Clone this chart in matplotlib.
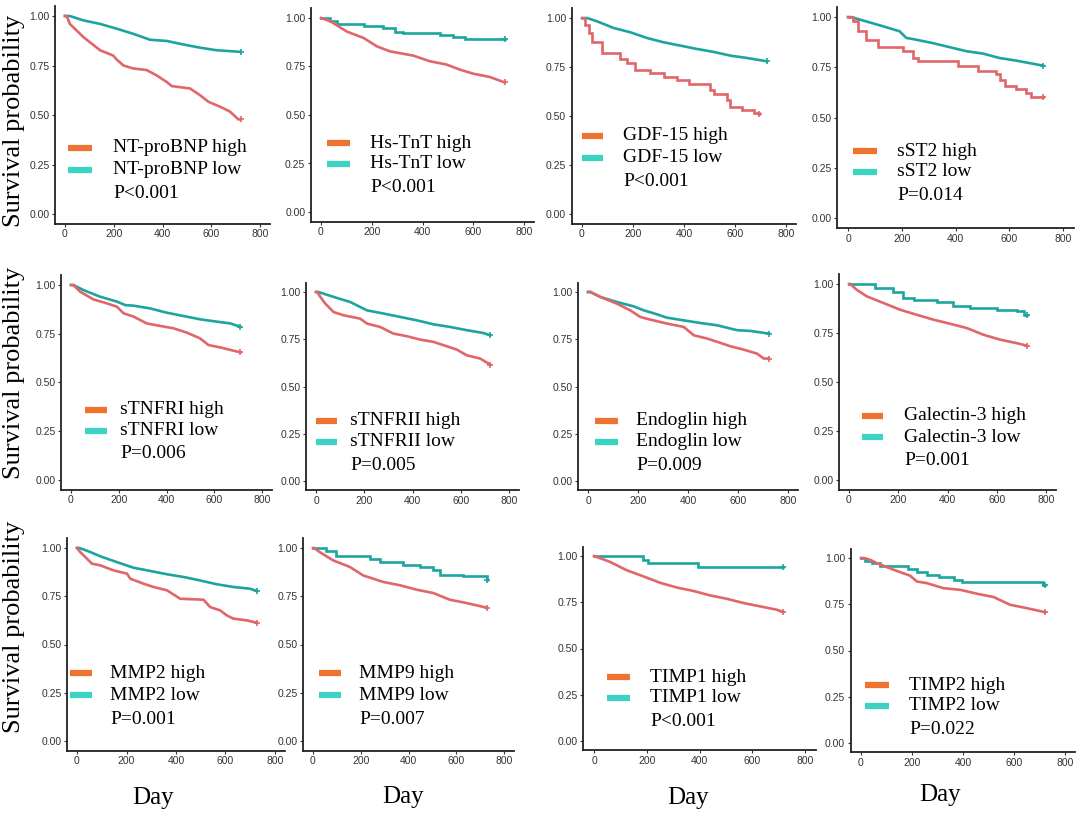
import matplotlib
matplotlib.use("Agg")
import matplotlib.pyplot as plt
from matplotlib.lines import Line2D

W, H = 1084, 818

# ---------------- data ----------------
markers = ["NT-proBNP", "Hs-TnT", "GDF-15", "sST2",
           "sTNFRI", "sTNFRII", "Endoglin", "Galectin-3",
           "MMP2", "MMP9", "TIMP1", "TIMP2"]
p_values = ["P<0.001", "P<0.001", "P<0.001", "P=0.014",
            "P=0.006", "P=0.005", "P=0.009", "P=0.001",
            "P=0.001", "P=0.007", "P<0.001", "P=0.022"]

x_ticks = [0, 200, 400, 600, 800]
y_ticks = [0.00, 0.25, 0.50, 0.75, 1.00]

ntprobnp_high_t = [0, 7, 20, 75, 144, 198, 212, 240, 280, 335, 376, 417, 438, 513, 554, 588, 636, 677, 711, 720]
ntprobnp_high_s = [1.0, 1.0, 0.96, 0.894, 0.827, 0.80, 0.78, 0.75, 0.735, 0.727, 0.70, 0.667, 0.646, 0.634, 0.60, 0.567, 0.542, 0.517, 0.478, 0.478]
ntprobnp_low_t = [0, 20, 75, 144, 212, 280, 349, 417, 486, 554, 622, 720]
ntprobnp_low_s = [1.0, 1.0, 0.978, 0.96, 0.936, 0.91, 0.88, 0.874, 0.856, 0.84, 0.827, 0.819]

hstnt_high_t = [0, 37, 102, 168, 220, 272, 364, 429, 495, 547, 600, 665, 724]
hstnt_high_s = [1.0, 0.983, 0.93, 0.897, 0.854, 0.828, 0.806, 0.777, 0.76, 0.734, 0.713, 0.696, 0.668]
hstnt_low_t = [0, 37, 63, 168, 246, 292, 325, 469, 521, 567, 724]
hstnt_low_s = [1.0, 0.983, 0.97, 0.96, 0.948, 0.93, 0.923, 0.913, 0.904, 0.89, 0.89]

gdf15_high_t = [0, 13, 26, 39, 78, 150, 176, 209, 268, 320, 373, 418, 503, 516, 569, 582, 627, 673, 693]
gdf15_high_s = [1.0, 0.966, 0.923, 0.878, 0.82, 0.79, 0.77, 0.735, 0.72, 0.70, 0.685, 0.665, 0.634, 0.61, 0.583, 0.546, 0.533, 0.515, 0.51]
gdf15_low_t = [0, 20, 59, 124, 190, 255, 320, 386, 451, 516, 582, 647, 725]
gdf15_low_s = [1.0, 1.0, 0.983, 0.949, 0.927, 0.898, 0.876, 0.859, 0.842, 0.827, 0.808, 0.796, 0.779]

sst2_high_t = [0, 19, 37, 68, 112, 205, 242, 260, 409, 484, 552, 564, 583, 626, 664, 682, 726]
sst2_high_s = [1.0, 0.978, 0.93, 0.887, 0.849, 0.83, 0.796, 0.78, 0.758, 0.73, 0.718, 0.685, 0.658, 0.642, 0.622, 0.60, 0.60]
sst2_low_t = [0, 10, 68, 130, 192, 217, 254, 316, 378, 440, 502, 564, 626, 726]
sst2_low_s = [1.0, 1.0, 0.978, 0.954, 0.929, 0.896, 0.887, 0.87, 0.85, 0.83, 0.818, 0.796, 0.783, 0.758]

stnfri_high_t = [0, 10, 38, 94, 150, 192, 220, 262, 317, 373, 429, 485, 541, 576, 625, 681, 709]
stnfri_high_s = [1.0, 1.0, 0.966, 0.926, 0.906, 0.889, 0.855, 0.838, 0.803, 0.79, 0.778, 0.756, 0.726, 0.692, 0.68, 0.663, 0.655]
stnfri_low_t = [0, 10, 52, 122, 192, 227, 262, 331, 401, 471, 541, 611, 667, 709]
stnfri_low_s = [1.0, 1.0, 0.974, 0.94, 0.915, 0.897, 0.894, 0.88, 0.858, 0.841, 0.824, 0.812, 0.803, 0.786]

stnfrii_high_t = [0, 5, 18, 39, 73, 114, 183, 211, 266, 321, 377, 432, 487, 542, 584, 625, 680, 722]
stnfrii_high_s = [1.0, 1.0, 0.974, 0.938, 0.894, 0.877, 0.859, 0.833, 0.815, 0.78, 0.766, 0.748, 0.736, 0.713, 0.695, 0.665, 0.648, 0.616]
stnfrii_low_t = [0, 10, 73, 142, 211, 280, 349, 418, 487, 556, 625, 694, 722]
stnfrii_low_s = [1.0, 1.0, 0.974, 0.947, 0.903, 0.886, 0.868, 0.85, 0.829, 0.815, 0.798, 0.783, 0.771]

endoglin_high_t = [0, 10, 49, 116, 169, 209, 249, 316, 383, 423, 476, 529, 569, 623, 676, 703, 723]
endoglin_high_s = [1.0, 1.0, 0.974, 0.938, 0.903, 0.868, 0.854, 0.833, 0.815, 0.771, 0.754, 0.731, 0.713, 0.695, 0.674, 0.648, 0.648]
endoglin_low_t = [0, 10, 49, 116, 183, 223, 276, 316, 383, 449, 516, 596, 649, 723]
endoglin_low_s = [1.0, 1.0, 0.974, 0.947, 0.924, 0.903, 0.882, 0.864, 0.85, 0.836, 0.824, 0.798, 0.794, 0.78]

galectin_high_t = [0, 5, 31, 72, 140, 207, 275, 343, 411, 479, 546, 614, 682, 723]
galectin_high_s = [1.0, 1.0, 0.971, 0.937, 0.903, 0.869, 0.843, 0.818, 0.797, 0.775, 0.741, 0.716, 0.698, 0.685]
galectin_low_t = [0, 106, 180, 221, 262, 357, 424, 492, 600, 682, 709, 723]
galectin_low_s = [1.0, 0.98, 0.957, 0.928, 0.92, 0.906, 0.889, 0.877, 0.869, 0.86, 0.843, 0.843]

mmp2_high_t = [0, 13, 40, 60, 94, 148, 202, 215, 269, 309, 363, 417, 511, 538, 578, 605, 632, 686, 726]
mmp2_high_s = [1.0, 0.979, 0.945, 0.919, 0.91, 0.884, 0.867, 0.841, 0.815, 0.798, 0.781, 0.737, 0.732, 0.694, 0.677, 0.651, 0.634, 0.625, 0.613]
mmp2_low_t = [0, 10, 54, 94, 161, 228, 296, 363, 430, 497, 565, 632, 699, 726]
mmp2_low_s = [1.0, 1.0, 0.979, 0.957, 0.927, 0.898, 0.881, 0.864, 0.85, 0.832, 0.812, 0.798, 0.789, 0.777]

mmp9_high_t = [0, 5, 28, 84, 154, 210, 294, 364, 434, 503, 573, 643, 727]
mmp9_high_s = [1.0, 1.0, 0.979, 0.936, 0.902, 0.858, 0.824, 0.807, 0.784, 0.767, 0.732, 0.715, 0.691]
mmp9_low_t = [0, 56, 98, 238, 280, 378, 448, 503, 531, 629, 727]
mmp9_low_s = [1.0, 0.984, 0.957, 0.945, 0.927, 0.91, 0.902, 0.888, 0.858, 0.853, 0.832]

timp1_high_t = [0, 10, 61, 124, 187, 253, 316, 377, 440, 503, 566, 629, 692, 718]
timp1_high_s = [1.0, 0.995, 0.968, 0.923, 0.89, 0.854, 0.829, 0.811, 0.787, 0.769, 0.746, 0.728, 0.71, 0.697]
timp1_low_t = [0, 187, 206, 396, 718]
timp1_low_s = [1.0, 0.98, 0.962, 0.94, 0.94]

timp2_high_t = [0, 10, 35, 61, 127, 193, 219, 258, 323, 389, 454, 520, 585, 650, 722]
timp2_high_s = [1.0, 1.0, 0.991, 0.973, 0.937, 0.904, 0.873, 0.864, 0.837, 0.828, 0.807, 0.789, 0.747, 0.729, 0.707]
timp2_low_t = [0, 16, 42, 75, 186, 219, 258, 304, 363, 395, 715, 722]
timp2_low_s = [1.0, 0.982, 0.973, 0.958, 0.94, 0.922, 0.91, 0.897, 0.882, 0.87, 0.855, 0.855]

high_t = [ntprobnp_high_t, hstnt_high_t, gdf15_high_t, sst2_high_t, stnfri_high_t, stnfrii_high_t,
          endoglin_high_t, galectin_high_t, mmp2_high_t, mmp9_high_t, timp1_high_t, timp2_high_t]
high_s = [ntprobnp_high_s, hstnt_high_s, gdf15_high_s, sst2_high_s, stnfri_high_s, stnfrii_high_s,
          endoglin_high_s, galectin_high_s, mmp2_high_s, mmp9_high_s, timp1_high_s, timp2_high_s]
low_t = [ntprobnp_low_t, hstnt_low_t, gdf15_low_t, sst2_low_t, stnfri_low_t, stnfrii_low_t,
         endoglin_low_t, galectin_low_t, mmp2_low_t, mmp9_low_t, timp1_low_t, timp2_low_t]
low_s = [ntprobnp_low_s, hstnt_low_s, gdf15_low_s, sst2_low_s, stnfri_low_s, stnfrii_low_s,
         endoglin_low_s, galectin_low_s, mmp2_low_s, mmp9_low_s, timp1_low_s, timp2_low_s]

# curves drawn as visible staircases (few events)
stepped_high = {"GDF-15", "sST2"}
stepped_low = {"Hs-TnT", "Galectin-3", "MMP9", "TIMP1", "TIMP2"}

# ---------------- layout (pixels) ----------------
# x pixel of day 0, x pixel of day 800, y pixel of 1.00, y pixel of 0.00
panel_px = [
    (65, 260, 16, 214), (321, 524, 18, 212), (582, 786, 18, 214), (848, 1063, 17, 218),
    (71, 262, 285, 480), (316, 509, 292, 481), (588, 788, 292, 481), (849, 1046, 284, 480),
    (77, 275, 548, 741), (313, 504, 548, 741), (594, 805, 556, 741), (861, 1065, 558, 743),
]
# legend: line x start, line x end, text x, first row y, row gap
legend_px = [
    (68, 92, 113, 148, 22), (327, 350, 370, 143, 21), (582, 603, 623, 136, 22), (853, 877, 897, 151, 21),
    (85, 107, 120, 410, 21), (316, 337, 350, 421, 21), (595, 618, 636, 421, 21), (862, 883, 904, 416, 21),
    (70, 92, 110, 673, 22), (319, 341, 359, 673, 22), (607, 630, 650, 677, 21), (865, 889, 909, 685, 21),
]

RED = "#E0666A"
TEAL = "#1CA59E"
LEG_ORANGE = "#EE7230"
LEG_TEAL = "#3CD3C2"
SERIF = ["Liberation Serif", "DejaVu Serif"]
TICKFONT = ["Liberation Sans Narrow", "Liberation Sans", "DejaVu Sans"]

fig = plt.figure(figsize=(W / 100, H / 100), dpi=100)
fig.patch.set_facecolor("white")


def fx(px):
    return px / W


def fy(py):
    return 1 - py / H


for i, name in enumerate(markers):
    x0, x8, y1, y0 = panel_px[i]
    ppu = (x8 - x0) / 800.0
    left = x0 - 40 * ppu
    width = 880 * ppu
    ppy = (y0 - y1)
    top = y1 - 0.05 * ppy
    height = 1.1 * ppy
    ax = fig.add_axes([left / W, 1 - (top + height) / H, width / W, height / H])
    ax.set_xlim(-40, 840)
    ax.set_ylim(-0.05, 1.05)
    for sp in ["top", "right"]:
        ax.spines[sp].set_visible(False)
    for sp in ["left", "bottom"]:
        ax.spines[sp].set_linewidth(1.3)
        ax.spines[sp].set_color("#222222")
    ax.set_xticks(x_ticks)
    ax.set_yticks(y_ticks)
    ax.set_yticklabels(["%.2f" % v for v in y_ticks])
    ax.tick_params(length=2.5, width=0.8, pad=1.5, labelsize=7.5, labelcolor="#333333", color="#333333")
    for lab in ax.get_xticklabels() + ax.get_yticklabels():
        lab.set_family(TICKFONT)

    ds_h = "steps-post" if name in stepped_high else "default"
    ds_l = "steps-post" if name in stepped_low else "default"
    ax.plot(low_t[i], low_s[i], color=TEAL, lw=1.9, drawstyle=ds_l, solid_joinstyle="miter")
    ax.plot(high_t[i], high_s[i], color=RED, lw=1.9, drawstyle=ds_h, solid_joinstyle="miter")
    ax.plot([low_t[i][-1]], [low_s[i][-1]], marker="+", color=TEAL, ms=5, mew=1.2)
    ax.plot([high_t[i][-1]], [high_s[i][-1]], marker="+", color=RED, ms=5, mew=1.2)

    # legend block
    lx0, lx1, tx, ry, gap = legend_px[i]
    fig.add_artist(Line2D([fx(lx0), fx(lx1)], [fy(ry), fy(ry)], color=LEG_ORANGE, lw=4.5,
                          transform=fig.transFigure, solid_capstyle="butt"))
    fig.add_artist(Line2D([fx(lx0), fx(lx1)], [fy(ry + gap), fy(ry + gap)], color=LEG_TEAL, lw=4.5,
                          transform=fig.transFigure, solid_capstyle="butt"))
    fig.text(fx(tx), fy(ry), name + " high", family=SERIF, fontsize=14, va="center", ha="left")
    fig.text(fx(tx), fy(ry + gap), name + " low", family=SERIF, fontsize=14, va="center", ha="left")
    fig.text(fx(tx), fy(ry + 2 * gap + 2), p_values[i], family=SERIF, fontsize=14, va="center", ha="left")

# row labels
for yc in [121, 373, 627]:
    fig.text(fx(14), fy(yc), "Survival probability", family=SERIF, fontsize=19,
             rotation=90, ha="center", va="center")
# column labels
for xc, yc in [(153, 798), (403, 797), (688, 798), (940, 795)]:
    fig.text(fx(xc), fy(yc), "Day", family=SERIF, fontsize=18, ha="center", va="center")

fig.savefig("out.png", dpi=100, facecolor="white")
